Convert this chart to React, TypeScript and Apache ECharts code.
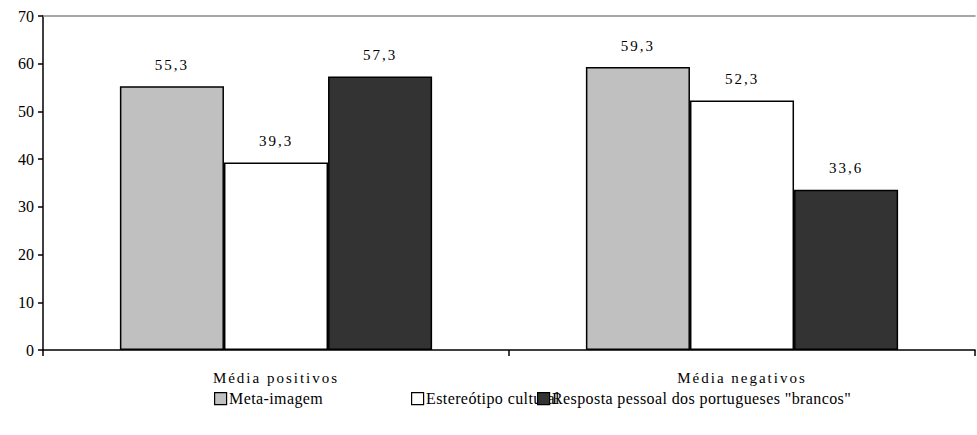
import React, { useEffect, useRef } from "react";
import * as echarts from "echarts";

const categories = ["Média positivos", "Média negativos"];
const seriesNames = ["Meta-imagem", "Estereótipo cultural", 'Resposta pessoal dos portugueses "brancos"'];
const metaImagem = [55.3, 59.3];
const estereotipo = [39.3, 52.3];
const resposta = [57.3, 33.6];
const seriesColors = ["#c0c0c0", "#ffffff", "#333333"];
const FONT = "Liberation Serif";

function forceFonts(root: HTMLElement | null) {
  if (!root) return;
  const texts = Array.from(root.querySelectorAll("text")) as SVGTextElement[];
  texts.forEach((t) => {
    const anchor = t.getAttribute("text-anchor");
    t.style.setProperty("font-family", '"Liberation Serif", "Times New Roman", serif', "important");
    if (anchor === "end") {
      t.style.setProperty("font-size", "16px", "important");
      t.style.setProperty("letter-spacing", "0px", "important");
    } else if (anchor === "middle") {
      t.style.setProperty("font-size", "15px", "important");
      t.style.setProperty("letter-spacing", "2px", "important");
    } else {
      t.style.setProperty("font-size", "16px", "important");
      t.style.setProperty("letter-spacing", "0.4px", "important");
    }
  });
}

export default function App() {
  const ref = useRef<HTMLDivElement>(null);
  useEffect(() => {
    if (!ref.current) return;
    const chart = echarts.init(ref.current, null, { renderer: "svg" });
    const values = [metaImagem, estereotipo, resposta];
    const legendLefts = [214, 411, 537];
    const legendGraphics: any[] = [];
    seriesNames.forEach((n, i) => {
      legendGraphics.push({
        type: "rect",
        left: legendLefts[i],
        top: 392,
        shape: { width: 12, height: 12 },
        style: { fill: seriesColors[i], stroke: "#000", lineWidth: 1.2 },
        silent: true,
      });
      legendGraphics.push({
        type: "text",
        left: legendLefts[i] + 15,
        top: 390,
        style: { text: n, fontFamily: FONT, fontSize: 16, fill: "#000" },
        silent: true,
      });
    });
    const option: any = {
      animation: false,
      grid: { left: 43, right: 2, top: 16, bottom: 85 },
      graphic: legendGraphics,
      xAxis: [
        {
          type: "category",
          data: categories,
          axisLine: { lineStyle: { color: "#000", width: 1.5 } },
          axisTick: { show: true, length: 6, lineStyle: { color: "#000", width: 1.5 } },
          axisLabel: { fontFamily: FONT, fontSize: 15, color: "#000", margin: 20 },
        },
        {
          type: "category",
          data: categories,
          position: "top",
          axisLine: { show: true, lineStyle: { color: "#8a8a8a", width: 1.5 } },
          axisTick: { show: false },
          axisLabel: { show: false },
          splitLine: { show: false },
        },
      ],
      yAxis: {
        type: "value",
        min: 0,
        max: 70,
        interval: 10,
        axisLine: { show: true, lineStyle: { color: "#000", width: 1.5 } },
        axisTick: { show: true, length: 5, lineStyle: { color: "#000", width: 1.5 } },
        axisLabel: { fontFamily: FONT, fontSize: 16, color: "#000", margin: 9 },
        splitLine: { show: false },
      },
      series: seriesNames.map((n, i) => ({
        name: n,
        type: "bar",
        xAxisIndex: 0,
        data: values[i],
        barGap: "0%",
        barCategoryGap: "33%",
        itemStyle: { color: seriesColors[i], borderColor: "#000", borderWidth: 1.5 },
        label: {
          show: true,
          position: "top",
          distance: 14,
          fontFamily: FONT,
          fontSize: 15,
          color: "#000",
          formatter: (p: any) => String(p.value).replace(".", ","),
        },
      })),
    };
    chart.setOption(option);
    const el = ref.current;
    forceFonts(el);
    chart.on("finished", () => forceFonts(el));
    const raf = requestAnimationFrame(() => forceFonts(el));
    const timer = setTimeout(() => forceFonts(el), 50);
    return () => {
      cancelAnimationFrame(raf);
      clearTimeout(timer);
      chart.dispose();
    };
  }, []);
  return (
    <div
      ref={ref}
      style={{ width: 977, height: 435, position: "absolute", left: 0, top: 0, background: "#fff" }}
    />
  );
}
